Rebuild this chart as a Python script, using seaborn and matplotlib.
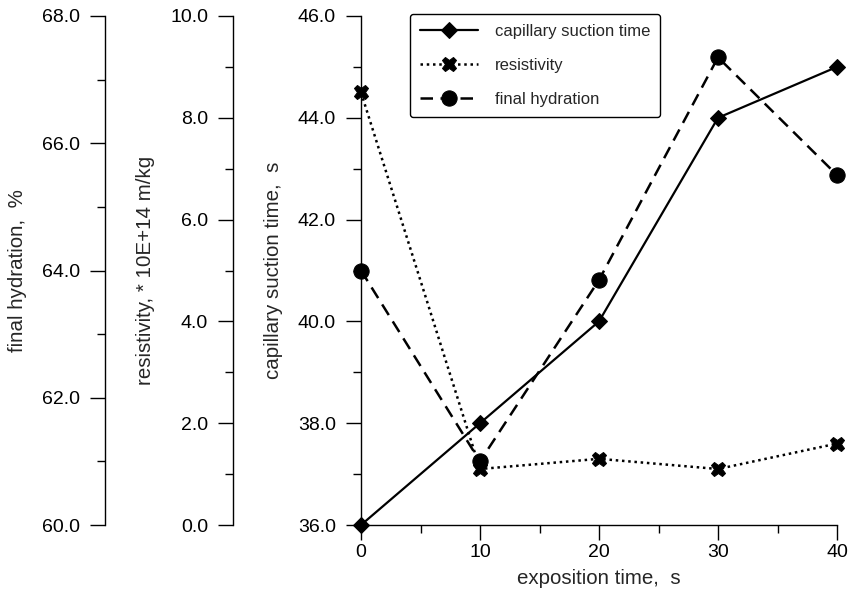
import matplotlib
matplotlib.use("Agg")
import matplotlib.pyplot as plt
from matplotlib.ticker import MultipleLocator, FormatStrFormatter
import seaborn as sns
import pandas as pd

# ---- data ----
exposition_time = [0, 10, 20, 30, 40]
capillary_suction_time = [36.0, 38.0, 40.0, 44.0, 45.0]
resistivity = [8.5, 1.1, 1.3, 1.1, 1.6]
final_hydration = [64.0, 61.0, 63.85, 67.35, 65.5]

labels = ["capillary suction time", "resistivity", "final hydration"]

sns.set_style("ticks")
plt.rcParams["font.family"] = ["Liberation Sans", "DejaVu Sans"]
plt.rcParams["axes.linewidth"] = 1.0

fig = plt.figure(figsize=(8.68, 5.98), dpi=100)
L, B, W, H = 361 / 868, (598 - 525) / 598, 476 / 868, 509 / 598
ax = fig.add_axes([L, B, W, H])
ax_r = ax.twinx()
ax_h = ax.twinx()

df = pd.DataFrame({"t": exposition_time, "cst": capillary_suction_time,
                   "res": resistivity, "hyd": final_hydration})

sns.lineplot(data=df, x="t", y="cst", ax=ax, color="black", lw=1.6,
             marker="D", markersize=8, markeredgecolor="black", label=labels[0],
             legend=False)
sns.lineplot(data=df, x="t", y="res", ax=ax_r, color="black", lw=1.8,
             linestyle=(0, (1, 1.5)), marker="X", markersize=10.5,
             markeredgecolor="black", label=labels[1], legend=False)
sns.lineplot(data=df, x="t", y="hyd", ax=ax_h, color="black", lw=1.8,
             linestyle=(0, (5, 3)), marker="o", markersize=11,
             markeredgecolor="black", label=labels[2], legend=False)

tick_fs = 14
lab_fs = 14.8
PX = 0.72  # points per pixel at 100 dpi
for a, lo, hi, pos, lab in [(ax, 36, 46, None, "capillary suction time,  s"),
                            (ax_r, 0, 10, -0.2689, "resistivity, * 10E+14 m/kg"),
                            (ax_h, 60, 68, -0.5378, "final hydration,  %")]:
    a.set_ylim(lo, hi)
    a.yaxis.set_major_locator(MultipleLocator(2))
    a.yaxis.set_minor_locator(MultipleLocator(1))
    a.yaxis.set_major_formatter(FormatStrFormatter("%.1f"))
    for s in ["top", "right", "bottom"]:
        a.spines[s].set_visible(False)
    if pos is not None:
        a.spines["left"].set_visible(True)
        a.spines["left"].set_position(("axes", pos))
        a.yaxis.set_ticks_position("left")
        a.yaxis.set_label_position("left")
    a.spines["left"].set_color("black")
    a.tick_params(axis="y", which="major", length=15 * PX, width=1.0, direction="out",
                  labelsize=tick_fs, pad=10 * PX, colors="black")
    a.tick_params(axis="y", which="minor", length=8 * PX, width=1.0, direction="out",
                  colors="black")
    a.set_ylabel(lab, fontsize=lab_fs, labelpad=10.5)

ax.spines["bottom"].set_visible(True)
ax.spines["bottom"].set_color("black")
ax.set_xlim(0, 40)
ax.xaxis.set_major_locator(MultipleLocator(10))
ax.xaxis.set_minor_locator(MultipleLocator(5))
ax.tick_params(axis="x", which="major", length=15 * PX, width=1.0, labelsize=tick_fs,
               pad=4 * PX, colors="black")
ax.tick_params(axis="x", which="minor", length=8 * PX, width=1.0, colors="black")
ax.set_xlabel("exposition time,  s", fontsize=lab_fs, labelpad=6)

for a in (ax, ax_r, ax_h):
    a.set_xlim(0, 40)
    for ln in a.get_lines():
        ln.set_clip_on(False)

handles = ax.get_lines()[:1] + ax_r.get_lines()[:1] + ax_h.get_lines()[:1]
leg = ax_h.legend(handles, labels, loc="upper left", bbox_to_anchor=(0.103, 1.004),
                  borderaxespad=0, fontsize=12, handlelength=3.5, labelspacing=1.15,
                  frameon=True, fancybox=True, edgecolor="black", borderpad=0.6,
                  handletextpad=1.0)
leg.get_frame().set_linewidth(1.0)
leg.get_frame().set_alpha(1)

fig.savefig("out.png", dpi=100)
